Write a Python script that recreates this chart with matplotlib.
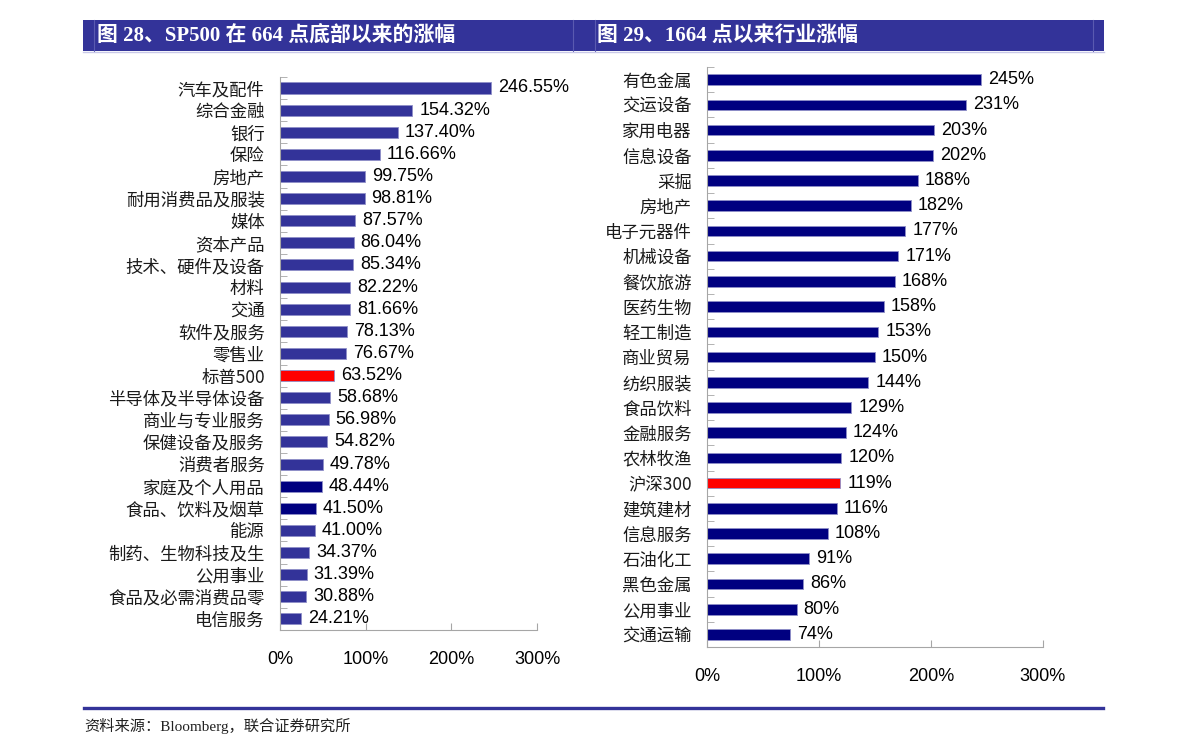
import numpy as np
import matplotlib.pyplot as plt
from matplotlib.patches import Rectangle
from matplotlib.lines import Line2D

# %% data
left_title = "图 28、SP500 在 664 点底部以来的涨幅"
left_cats = ["汽车及配件", "综合金融", "银行", "保险", "房地产", "耐用消费品及服装", "媒体",
             "资本产品", "技术、硬件及设备", "材料", "交通", "软件及服务", "零售业", "标普500",
             "半导体及半导体设备", "商业与专业服务", "保健设备及服务", "消费者服务",
             "家庭及个人用品", "食品、饮料及烟草", "能源", "制药、生物科技及生", "公用事业",
             "食品及必需消费品零", "电信服务"]
left_vals = [246.55, 154.32, 137.40, 116.66, 99.75, 98.81, 87.57, 86.04, 85.34, 82.22, 81.66,
             78.13, 76.67, 63.52, 58.68, 56.98, 54.82, 49.78, 48.44, 41.50, 41.00, 34.37, 31.39,
             30.88, 24.21]
left_highlight = "标普500"
left_dark = ["家庭及个人用品", "食品、饮料及烟草"]

right_title = "图 29、1664 点以来行业涨幅"
right_cats = ["有色金属", "交运设备", "家用电器", "信息设备", "采掘", "房地产", "电子元器件",
              "机械设备", "餐饮旅游", "医药生物", "轻工制造", "商业贸易", "纺织服装", "食品饮料",
              "金融服务", "农林牧渔", "沪深300", "建筑建材", "信息服务", "石油化工", "黑色金属",
              "公用事业", "交通运输"]
right_vals = [245, 231, 203, 202, 188, 182, 177, 171, 168, 158, 153, 150, 144, 129, 124, 120,
              119, 116, 108, 91, 86, 80, 74]
right_highlight = "沪深300"

xticks = [0, 100, 200, 300]
xtick_labels = ["0%", "100%", "200%", "300%"]
source = "资料来源：Bloomberg，联合证券研究所"

# %% style
CJK = ["Noto Sans CJK SC", "DejaVu Sans"]
NUM = ["Liberation Sans", "DejaVu Sans"]
SERIF = ["Liberation Serif", "Noto Sans CJK SC"]
BLUE = "#333399"
NAVY = "#000080"
RED = "#ff0000"
GREY = "#a6a6a6"

fig = plt.figure(figsize=(11.91, 7.55), dpi=100)


def draw_panel(ax, cats, vals, colors, height, fmt):
    y = np.arange(len(cats))
    ax.barh(y, vals, height=height, color=colors, edgecolor="#8f8fc8", linewidth=0.6)
    for yi, v in zip(y, vals):
        ax.annotate(fmt.format(v), (v, yi), xytext=(5, 0), textcoords="offset points",
                    va="center", ha="left", fontsize=13, family=NUM, color="black")
    ax.set_xlim(0, 300)
    ax.set_ylim(len(cats) - 0.5, -0.5)
    ax.set_yticks(y)
    ax.set_yticklabels(cats, family=CJK, fontsize=12.5, color="#1a1a1a")
    ax.set_yticks(np.arange(len(cats) + 1) - 0.5, minor=True)
    ax.tick_params(axis="y", which="major", length=0, pad=11)
    ax.tick_params(axis="y", which="minor", direction="in", length=5, color=GREY)
    ax.set_xticks(xticks)
    ax.set_xticklabels(xtick_labels, family=NUM, fontsize=13)
    ax.tick_params(axis="x", direction="in", length=5, color=GREY, pad=15)
    for s in ["top", "right"]:
        ax.spines[s].set_visible(False)
    for s in ["left", "bottom"]:
        ax.spines[s].set_color(GREY)
        ax.spines[s].set_linewidth(0.8)


# left panel
lcolors = [RED if c == left_highlight else (NAVY if c in left_dark else BLUE) for c in left_cats]
ax1 = fig.add_axes([0.2351, 0.1656, 0.2158, 0.7325])
draw_panel(ax1, left_cats, left_vals, lcolors, 0.5, "{:.2f}%")

# right panel
rcolors = [RED if c == right_highlight else NAVY for c in right_cats]
ax2 = fig.add_axes([0.5936, 0.1430, 0.2821, 0.7682])
draw_panel(ax2, right_cats, right_vals, rcolors, 0.42, "{:.0f}%")

# header band
fig.patches.append(Rectangle((0.0697, 0.9325), 0.8573, 0.0411, transform=fig.transFigure,
                             facecolor=BLUE, edgecolor="none", zorder=0))
for xx in [0.0789, 0.4811, 0.4996, 0.9181]:
    fig.add_artist(Line2D([xx, xx], [0.9325, 0.9736], transform=fig.transFigure,
                          color="#5a5ab0", linewidth=0.8))
fig.add_artist(Line2D([0.0697, 0.927], [0.9315, 0.9315], transform=fig.transFigure,
                      color="#c8c8e8", linewidth=1))
fig.text(0.0814, 0.9525, left_title, color="white", fontsize=15, fontweight="bold",
         family=SERIF, va="center", ha="left")
fig.text(0.5013, 0.9525, right_title, color="white", fontsize=15, fontweight="bold",
         family=SERIF, va="center", ha="left")

# footer
fig.add_artist(Line2D([0.0705, 0.926], [0.0623, 0.0623], transform=fig.transFigure,
                      color=BLUE, linewidth=2.4))
fig.text(0.0705, 0.0384, source, fontsize=11, family=SERIF, va="center", ha="left",
         color="#222222")

plt.savefig("out.png", dpi=100)
